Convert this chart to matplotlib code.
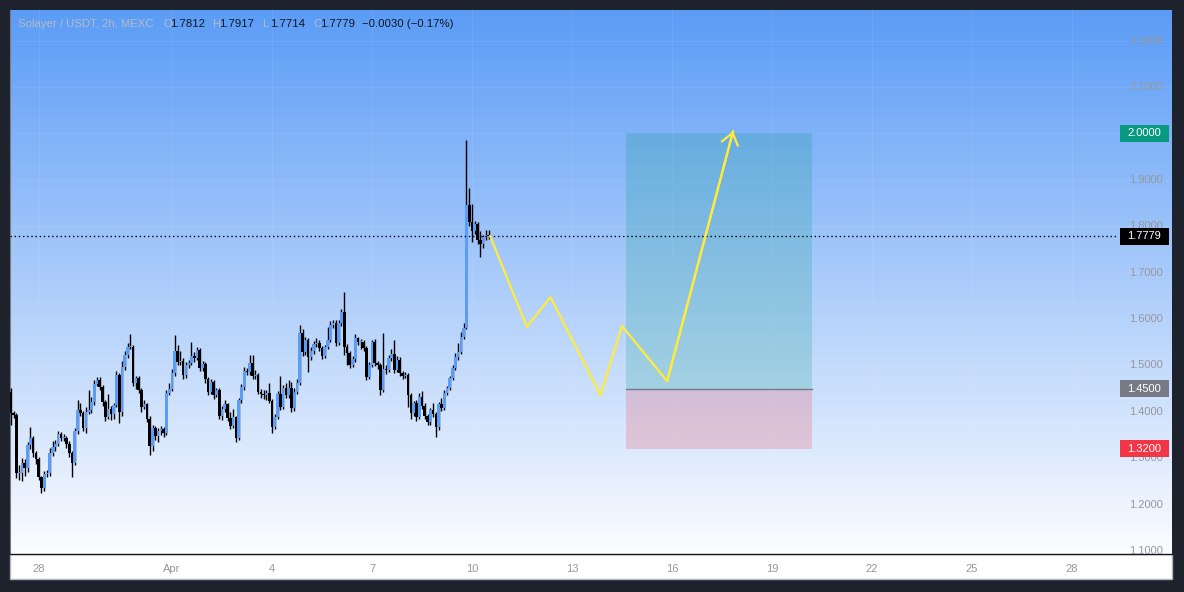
import numpy as np
import pandas as pd
import matplotlib
matplotlib.use("Agg")
import matplotlib.pyplot as plt
import matplotlib.dates as mdates
from matplotlib.patches import Rectangle

plt.rcParams['font.family'] = ['Liberation Sans', 'DejaVu Sans']

# 2h candles, Solayer / USDT (MEXC)
first_open = 1.443
closes = [
    1.397, 1.393, 1.268, 1.268, 1.290, 1.279, 1.328, 1.344, 1.311, 1.298, 1.259, 1.236, 1.266, 1.268, 1.311,
    1.324, 1.331, 1.352, 1.344, 1.344, 1.331, 1.311, 1.290, 1.359, 1.404, 1.397, 1.365, 1.400, 1.404, 1.421,
    1.460, 1.469, 1.453, 1.421, 1.389,
    1.406, 1.395, 1.415, 1.479, 1.400, 1.497, 1.522, 1.540, 1.540, 1.462, 1.473, 1.447, 1.410, 1.417, 1.385,
    1.326, 1.365, 1.348, 1.359, 1.363, 1.354, 1.441, 1.449, 1.484, 1.531, 1.507, 1.509, 1.479, 1.501, 1.505,
    1.520, 1.516, 1.533, 1.494, 1.503,
    1.471, 1.443, 1.464, 1.436, 1.447, 1.391, 1.406, 1.417, 1.387, 1.369, 1.389, 1.344, 1.425, 1.453, 1.488,
    1.486, 1.505, 1.477, 1.479, 1.443, 1.438, 1.436, 1.441, 1.423, 1.367, 1.389, 1.438, 1.410, 1.451, 1.436,
    1.451, 1.408, 1.443, 1.462,
    1.570, 1.529, 1.555, 1.518, 1.531, 1.546, 1.548, 1.538, 1.520, 1.540, 1.555, 1.587, 1.591, 1.548, 1.591,
    1.615, 1.540, 1.527, 1.501, 1.514, 1.559, 1.550, 1.550, 1.538, 1.475, 1.501, 1.550, 1.505, 1.501, 1.447,
    1.492, 1.490, 1.516, 1.525,
    1.490, 1.512, 1.484, 1.477, 1.479, 1.436, 1.397, 1.419, 1.389, 1.432, 1.412, 1.391, 1.378, 1.404, 1.395,
    1.367, 1.417, 1.408, 1.441, 1.451, 1.473, 1.494, 1.518, 1.529, 1.561, 1.581, 1.846, 1.809, 1.790, 1.805,
    1.770, 1.762, 1.777, 1.7812, 1.7779,
]
highs = [
    1.452, 1.402, 1.398, 1.285, 1.300, 1.298, 1.335, 1.367, 1.348, 1.316, 1.302, 1.262, 1.272, 1.275, 1.322,
    1.338, 1.340, 1.358, 1.356, 1.352, 1.348, 1.336, 1.316, 1.366, 1.425, 1.418, 1.402, 1.410, 1.447, 1.432,
    1.468, 1.475, 1.474, 1.458, 1.426,
    1.438, 1.412, 1.420, 1.488, 1.484, 1.510, 1.530, 1.548, 1.567, 1.545, 1.478, 1.478, 1.452, 1.425, 1.420,
    1.390, 1.372, 1.370, 1.365, 1.370, 1.368, 1.446, 1.462, 1.492, 1.565, 1.545, 1.530, 1.515, 1.508, 1.512,
    1.550, 1.528, 1.540, 1.538, 1.510,
    1.508, 1.476, 1.470, 1.468, 1.452, 1.452, 1.412, 1.426, 1.420, 1.400, 1.405, 1.392, 1.430, 1.460, 1.496,
    1.495, 1.522, 1.522, 1.490, 1.484, 1.450, 1.446, 1.448, 1.462, 1.428, 1.396, 1.445, 1.478, 1.458, 1.462,
    1.468, 1.465, 1.452, 1.470,
    1.587, 1.578, 1.562, 1.560, 1.540, 1.552, 1.560, 1.555, 1.542, 1.545, 1.582, 1.596, 1.598, 1.598, 1.598,
    1.622, 1.658, 1.546, 1.532, 1.520, 1.568, 1.562, 1.556, 1.555, 1.542, 1.508, 1.555, 1.556, 1.510, 1.505,
    1.570, 1.500, 1.522, 1.535,
    1.555, 1.520, 1.518, 1.488, 1.485, 1.484, 1.440, 1.424, 1.425, 1.440, 1.445, 1.418, 1.395, 1.408, 1.418,
    1.400, 1.422, 1.430, 1.446, 1.456, 1.478, 1.500, 1.526, 1.548, 1.572, 1.592, 1.986, 1.882, 1.848, 1.812,
    1.810, 1.790, 1.782, 1.792, 1.7917,
]
lows = [
    1.372, 1.386, 1.258, 1.254, 1.250, 1.262, 1.271, 1.320, 1.303, 1.287, 1.252, 1.224, 1.230, 1.260, 1.262,
    1.305, 1.316, 1.326, 1.338, 1.336, 1.322, 1.303, 1.259, 1.285, 1.352, 1.390, 1.358, 1.354, 1.396, 1.398,
    1.414, 1.455, 1.446, 1.412, 1.380,
    1.385, 1.382, 1.384, 1.410, 1.376, 1.392, 1.490, 1.515, 1.535, 1.455, 1.450, 1.440, 1.400, 1.405, 1.378,
    1.307, 1.315, 1.340, 1.335, 1.350, 1.345, 1.350, 1.436, 1.444, 1.478, 1.500, 1.500, 1.470, 1.472, 1.495,
    1.500, 1.508, 1.512, 1.488, 1.487,
    1.463, 1.436, 1.438, 1.428, 1.432, 1.384, 1.382, 1.400, 1.380, 1.362, 1.364, 1.335, 1.340, 1.420, 1.448,
    1.480, 1.480, 1.470, 1.470, 1.438, 1.430, 1.428, 1.425, 1.418, 1.354, 1.362, 1.384, 1.404, 1.405, 1.430,
    1.430, 1.400, 1.402, 1.438,
    1.458, 1.520, 1.522, 1.486, 1.512, 1.525, 1.540, 1.532, 1.514, 1.515, 1.535, 1.550, 1.580, 1.542, 1.545,
    1.585, 1.522, 1.500, 1.495, 1.496, 1.508, 1.544, 1.535, 1.530, 1.468, 1.470, 1.496, 1.498, 1.492, 1.436,
    1.442, 1.482, 1.486, 1.510,
    1.484, 1.485, 1.478, 1.470, 1.472, 1.410, 1.385, 1.390, 1.380, 1.384, 1.405, 1.384, 1.372, 1.372, 1.388,
    1.346, 1.360, 1.402, 1.404, 1.436, 1.446, 1.468, 1.490, 1.512, 1.525, 1.556, 1.578, 1.800, 1.765, 1.784,
    1.762, 1.733, 1.752, 1.770, 1.7714,
]
times = pd.date_range("2025-03-27 04:00", periods=len(closes), freq="2h")

# trade idea drawing
path_times = ["2025-04-10 13:00", "2025-04-11 15:30", "2025-04-12 08:30", "2025-04-13 20:30",
              "2025-04-14 12:00", "2025-04-15 20:30", "2025-04-17 20:00"]
path_prices = [1.779, 1.583, 1.647, 1.436, 1.585, 1.466, 2.005]
box_start, box_end = "2025-04-14 15:00", "2025-04-20 05:00"
entry, target, stop = 1.45, 2.00, 1.32
last_price = 1.7779

price_ticks = [1.1, 1.2, 1.3, 1.4, 1.5, 1.6, 1.7, 1.8, 1.9, 2.0, 2.1, 2.2]
date_ticks = ["2025-03-28", "2025-04-01", "2025-04-04", "2025-04-07", "2025-04-10", "2025-04-13",
              "2025-04-16", "2025-04-19", "2025-04-22", "2025-04-25", "2025-04-28"]
date_labels = ["28", "Apr", "4", "7", "10", "13", "16", "19", "22", "25", "28"]

W, H = 1184, 592
fig = plt.figure(figsize=(W / 100, H / 100), dpi=100)
fig.patch.set_facecolor('#1e222d')

# x axis strip
fig.patches.append(Rectangle((10 / W, 1 - 579 / H), 1162 / W, 25 / H, transform=fig.transFigure,
                             facecolor='white', edgecolor='#b2b5be', lw=1, zorder=-5))

ax = fig.add_axes([10 / W, 1 - 554 / H, 1162 / W, 544 / H])
ax.set_facecolor('white')

# background gradient
top = np.array([0.357, 0.612, 0.965])
bot = np.array([0.985, 0.99, 1.0])
f = np.linspace(0, 1, 256)[:, None, None]
grad = top * (1 - f) + bot * f
ax.imshow(grad, extent=[0, 1, 0, 1], transform=ax.transAxes, aspect='auto', zorder=0)

x0 = mdates.date2num(pd.Timestamp("2025-04-01"))
ax.set_xlim(x0 - 4.86, x0 + 30.0)
ax.set_ylim(1.0935, 2.266)

for p in price_ticks:
    ax.axhline(p, color='white', alpha=0.07, lw=0.8, zorder=1)
for d in date_ticks:
    ax.axvline(mdates.date2num(pd.Timestamp(d)), color='white', alpha=0.07, lw=0.8, zorder=1)

# candles
xs = mdates.date2num(times)
opens = [first_open] + closes[:-1]
o = np.array(opens)
c = np.array(closes)
up = c >= o
ax.vlines(xs, lows, highs, color='black', lw=1.0, zorder=3)
bottoms = np.minimum(o, c)
heights = np.maximum(np.abs(c - o), 0.002)
ax.bar(xs[up], heights[up], width=0.078, bottom=bottoms[up], color='#5b9cf6', zorder=4)
ax.bar(xs[~up], heights[~up], width=0.078, bottom=bottoms[~up], color='black', zorder=4)

# last price dotted line
ax.plot([0, 0.953], [last_price, last_price], transform=ax.get_yaxis_transform(),
        color='black', lw=1, ls=(0, (1, 2)), zorder=5)

# long position box
bs = mdates.date2num(pd.Timestamp(box_start))
be = mdates.date2num(pd.Timestamp(box_end))
ax.add_patch(Rectangle((bs, entry), be - bs, target - entry, facecolor='#089981', alpha=0.2, lw=0, zorder=2))
ax.add_patch(Rectangle((bs, stop), be - bs, entry - stop, facecolor='#f23645', alpha=0.2, lw=0, zorder=2))
ax.plot([bs, be], [entry, entry], color='#787b86', lw=1, zorder=2)

# yellow path + arrow
px = mdates.date2num(pd.to_datetime(path_times))
ax.plot(px, path_prices, color='#ffeb3b', lw=1.6, zorder=6, solid_capstyle='round')
ax.annotate('', xy=(px[-1], path_prices[-1]), xytext=(px[-2], path_prices[-2]),
            arrowprops=dict(arrowstyle='->,head_length=0.8,head_width=0.6', color='#ffeb3b', lw=1.6,
                            shrinkA=0, shrinkB=0), zorder=6)

# axes styling
ax.set_xticks(mdates.date2num(pd.to_datetime(date_ticks)))
ax.set_xticklabels(date_labels)
ax.tick_params(axis='x', length=0, pad=7, labelsize=8, labelcolor='#9598a1')
ax.set_yticks([])
for s in ['top', 'right']:
    ax.spines[s].set_visible(False)
ax.spines['left'].set_color('#787b86')
ax.spines['bottom'].set_color('#131722')
ax.spines['bottom'].set_linewidth(1)

# price scale labels
ytr = ax.get_yaxis_transform()
for p in price_ticks:
    ax.text(0.9923, p, f"{p:.4f}", transform=ytr, ha='right', va='center', fontsize=8,
            color='#9598a1', zorder=7)
for val, col in [(target, '#089981'), (last_price, '#000000'), (entry, '#787b86'), (stop, '#f23645')]:
    ax.add_patch(Rectangle((0.9552, val - 0.0185), 0.0422, 0.037, transform=ytr, facecolor=col,
                           lw=0, zorder=8, clip_on=False))
    ax.text(0.9763, val, f"{val:.4f}", transform=ytr, ha='center', va='center', fontsize=8,
            color='white', zorder=9)

# header legend
hy = 1 - 24 / H
parts = [(18, "Solayer / USDT, 2h, MEXC", '#b8bbc4'), (163, "O", '#b8bbc4'), (170, "1.7812", '#131722'),
         (212, "H", '#b8bbc4'), (219, "1.7917", '#131722'), (262, "L", '#b8bbc4'), (270, "1.7714", '#131722'),
         (313, "C", '#b8bbc4'), (320, "1.7779", '#131722'), (362, "\u22120.0030 (\u22120.17%)", '#131722')]
for xp, s, col in parts:
    fig.text(xp / W, hy, s, fontsize=8.2, color=col, ha='left', va='center')

fig.savefig("out.png", dpi=100, facecolor=fig.get_facecolor())
